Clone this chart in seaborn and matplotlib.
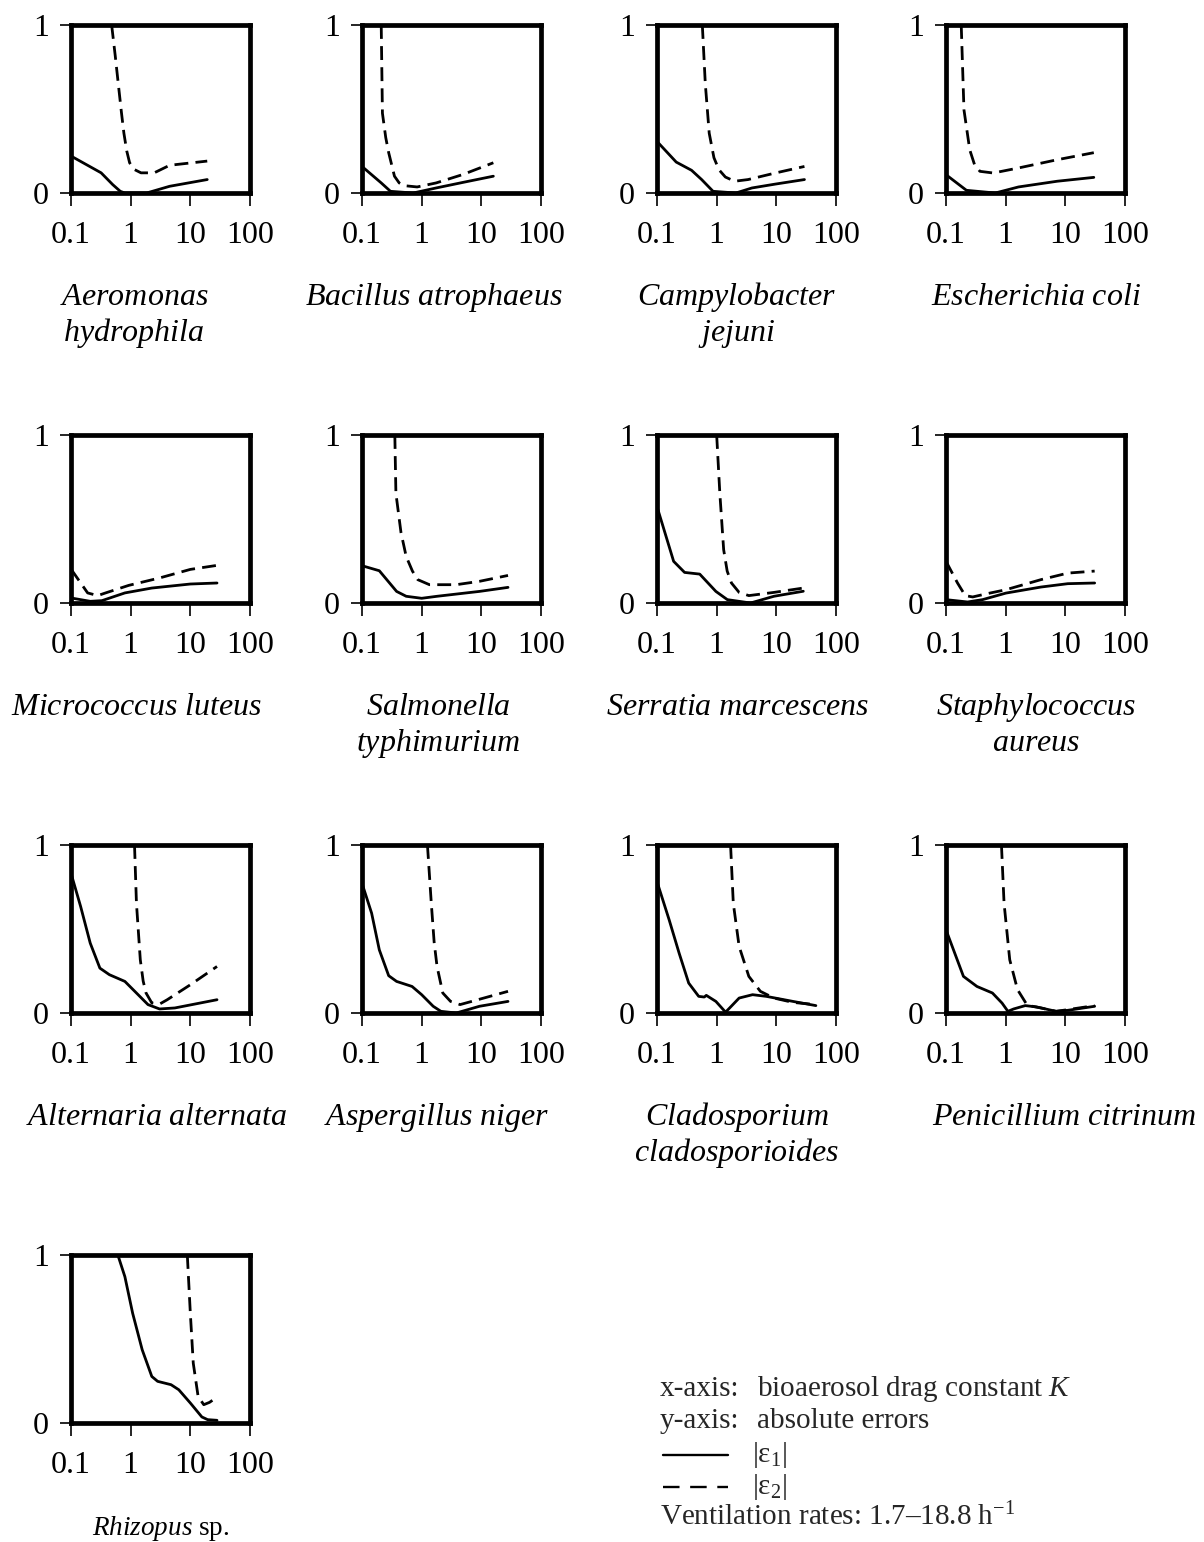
import numpy as np
import pandas as pd
import matplotlib
matplotlib.use("Agg")
import matplotlib.pyplot as plt
from matplotlib.lines import Line2D
from matplotlib.ticker import FixedLocator, FixedFormatter, NullLocator
import seaborn as sns

# ---------------- data ----------------
species = ["Aeromonas hydrophila", "Bacillus atrophaeus", "Campylobacter jejuni",
           "Escherichia coli", "Micrococcus luteus", "Salmonella typhimurium",
           "Serratia marcescens", "Staphylococcus aureus", "Alternaria alternata",
           "Aspergillus niger", "Cladosporium cladosporioides", "Penicillium citrinum",
           "Rhizopus sp."]

aero_k1 = [0.1, 0.32, 0.5, 0.67, 0.8, 1.85, 4.5, 19.2]
aero_e1 = [0.22, 0.12, 0.05, 0.01, 0.0, 0.0, 0.04, 0.08]
aero_k2 = [0.48, 0.55, 0.62, 0.70, 0.77, 0.86, 0.96, 1.15, 1.49, 2.48, 4.5, 19.2]
aero_e2 = [1.0, 0.82, 0.65, 0.48, 0.356, 0.25, 0.18, 0.14, 0.12, 0.12, 0.165, 0.19]

bac_k1 = [0.1, 0.21, 0.30, 0.72, 1.75, 4.9, 15.9]
bac_e1 = [0.158, 0.06, 0.01, 0.0, 0.03, 0.063, 0.10]
bac_k2 = [0.21, 0.22, 0.25, 0.28, 0.35, 0.42, 0.50, 0.84, 1.75, 4.9, 15.9]
bac_e2 = [1.0, 0.475, 0.33, 0.24, 0.10, 0.06, 0.044, 0.036, 0.06, 0.11, 0.18]

camp_k1 = [0.1, 0.21, 0.38, 0.56, 0.87, 2.1, 3.9, 9.6, 29.6]
camp_e1 = [0.307, 0.184, 0.135, 0.08, 0.01, 0.0, 0.03, 0.053, 0.08]
camp_k2 = [0.575, 0.645, 0.75, 0.9, 1.09, 1.4, 2.0, 3.36, 9.6, 29.6]
camp_e2 = [1.0, 0.65, 0.356, 0.21, 0.139, 0.095, 0.07, 0.08, 0.119, 0.158]

ecoli_k1 = [0.1, 0.22, 0.67, 1.64, 7.3, 30]
ecoli_e1 = [0.109, 0.016, 0.0, 0.036, 0.07, 0.093]
ecoli_k2 = [0.18, 0.20, 0.25, 0.30, 0.37, 0.62, 1.64, 7.3, 30]
ecoli_e2 = [1.0, 0.495, 0.257, 0.17, 0.129, 0.119, 0.149, 0.198, 0.24]

micro_k1 = [0.1, 0.21, 0.33, 0.80, 2.26, 10, 28]
micro_e1 = [0.03, 0.01, 0.014, 0.06, 0.089, 0.113, 0.119]
micro_k2 = [0.1, 0.19, 0.28, 0.38, 0.93, 3.05, 10, 28]
micro_e2 = [0.202, 0.06, 0.044, 0.06, 0.105, 0.149, 0.20, 0.224]

salm_k1 = [0.1, 0.195, 0.38, 0.55, 1.0, 1.81, 9.3, 28]
salm_e1 = [0.222, 0.192, 0.069, 0.04, 0.028, 0.04, 0.069, 0.093]
salm_k2 = [0.355, 0.37, 0.45, 0.55, 0.70, 0.86, 1.35, 3.8, 9.3, 28]
salm_e2 = [1.0, 0.653, 0.42, 0.277, 0.19, 0.139, 0.109, 0.109, 0.129, 0.164]

serr_k1 = [0.1, 0.19, 0.29, 0.52, 0.97, 1.51, 3.7, 9.1, 28.3]
serr_e1 = [0.574, 0.248, 0.182, 0.172, 0.069, 0.02, 0.0, 0.04, 0.07]
serr_k2 = [1.0, 1.13, 1.31, 1.5, 1.77, 2.38, 3.46, 9.1, 28.3]
serr_e2 = [1.0, 0.653, 0.317, 0.19, 0.119, 0.063, 0.044, 0.063, 0.089]

staph_k1 = [0.1, 0.23, 0.41, 1.01, 3.9, 11, 31]
staph_e1 = [0.02, 0.006, 0.02, 0.059, 0.095, 0.115, 0.119]
staph_k2 = [0.1, 0.156, 0.21, 0.28, 0.48, 1.01, 3.9, 11, 31]
staph_e2 = [0.248, 0.119, 0.044, 0.036, 0.055, 0.079, 0.139, 0.178, 0.19]

alt_k1 = [0.1, 0.145, 0.21, 0.305, 0.44, 0.80, 1.25, 1.95, 3.05, 5.5, 28]
alt_e1 = [0.832, 0.634, 0.416, 0.267, 0.228, 0.188, 0.119, 0.05, 0.024, 0.03, 0.079]
alt_k2 = [1.16, 1.25, 1.45, 1.62, 1.81, 2.26, 3.05, 4.1, 10, 28]
alt_e2 = [1.0, 0.653, 0.317, 0.19, 0.119, 0.06, 0.053, 0.079, 0.168, 0.277]

asp_k1 = [0.1, 0.145, 0.195, 0.28, 0.38, 0.69, 1.0, 1.56, 2.1, 3.8, 9.3, 28]
asp_e1 = [0.772, 0.594, 0.376, 0.222, 0.188, 0.158, 0.109, 0.04, 0.01, 0.0, 0.04, 0.069]
asp_k2 = [1.25, 1.45, 1.62, 1.81, 2.26, 3.05, 4.4, 6.9, 28]
asp_e2 = [1.0, 0.653, 0.42, 0.277, 0.119, 0.069, 0.05, 0.069, 0.129]

clad_k1 = [0.1, 0.16, 0.235, 0.34, 0.50, 0.62, 0.67, 0.97, 1.41, 1.65, 2.38, 4.0, 6.8, 19, 46]
clad_e1 = [0.782, 0.554, 0.356, 0.178, 0.099, 0.095, 0.105, 0.069, 0.005, 0.03, 0.089, 0.109, 0.099, 0.069, 0.044]
clad_k2 = [1.71, 1.9, 2.38, 3.46, 5.4, 9.1, 19, 46]
clad_e2 = [1.0, 0.653, 0.396, 0.218, 0.129, 0.089, 0.063, 0.05]

pen_k1 = [0.1, 0.196, 0.33, 0.60, 0.87, 1.09, 1.36, 2.13, 3.3, 7.0, 11, 31]
pen_e1 = [0.495, 0.218, 0.158, 0.119, 0.059, 0.01, 0.024, 0.044, 0.036, 0.01, 0.016, 0.04]
pen_k2 = [0.85, 0.94, 1.17, 1.58, 2.3, 3.9, 7.0, 11, 31]
pen_e2 = [1.0, 0.653, 0.317, 0.139, 0.046, 0.03, 0.01, 0.02, 0.044]

rhiz_k1 = [0.61, 0.80, 1.08, 1.56, 2.26, 2.83, 4.75, 6.4, 10, 15.6, 19.5, 28]
rhiz_e1 = [1.0, 0.871, 0.653, 0.436, 0.277, 0.248, 0.228, 0.198, 0.119, 0.036, 0.02, 0.016]
rhiz_k2 = [8.9, 10, 11.2, 13.5, 16.8, 21, 28]
rhiz_e2 = [1.0, 0.653, 0.356, 0.158, 0.109, 0.123, 0.154]

x_ticks = [0.1, 1, 10, 100]
x_tick_labels = ["0.1", "1", "10", "100"]
y_ticks = [0, 1]
y_tick_labels = ["0", "1"]

series_data = [
    (aero_k1, aero_e1, aero_k2, aero_e2),
    (bac_k1, bac_e1, bac_k2, bac_e2),
    (camp_k1, camp_e1, camp_k2, camp_e2),
    (ecoli_k1, ecoli_e1, ecoli_k2, ecoli_e2),
    (micro_k1, micro_e1, micro_k2, micro_e2),
    (salm_k1, salm_e1, salm_k2, salm_e2),
    (serr_k1, serr_e1, serr_k2, serr_e2),
    (staph_k1, staph_e1, staph_k2, staph_e2),
    (alt_k1, alt_e1, alt_k2, alt_e2),
    (asp_k1, asp_e1, asp_k2, asp_e2),
    (clad_k1, clad_e1, clad_k2, clad_e2),
    (pen_k1, pen_e1, pen_k2, pen_e2),
    (rhiz_k1, rhiz_e1, rhiz_k2, rhiz_e2),
]

rows = []
for name, (k1, e1, k2, e2) in zip(species, series_data):
    for k, e in zip(k1, e1):
        rows.append((name, "e1", k, e))
    for k, e in zip(k2, e2):
        rows.append((name, "e2", k, e))
df = pd.DataFrame(rows, columns=["species", "series", "K", "err"])

# ---------------- styling ----------------
sns.set_theme(style="ticks")
plt.rcParams['font.family'] = ['Liberation Serif', 'DejaVu Serif']
plt.rcParams['mathtext.fontset'] = 'custom'
plt.rcParams['mathtext.rm'] = 'Liberation Serif'
plt.rcParams['mathtext.it'] = 'Liberation Serif:italic'

W, H = 1204, 1542
fig = plt.figure(figsize=(W / 100, H / 100), dpi=100)
fig.patch.set_facecolor("white")

col_left = [71, 362, 657, 946]
row_top = [25, 435, 845, 1255]
box_w, box_h = 179, 168
LW = 2.0
DASH = (5, 2.6)

title_lines = [
    [r"$\mathit{Aeromonas}$", r"$\mathit{hydrophila}$"],
    [r"$\mathit{Bacillus\ atrophaeus}$"],
    [r"$\mathit{Campylobacter}$", r"$\mathit{jejuni}$"],
    [r"$\mathit{Escherichia\ coli}$"],
    [r"$\mathit{Micrococcus\ luteus}$"],
    [r"$\mathit{Salmonella}$", r"$\mathit{typhimurium}$"],
    [r"$\mathit{Serratia\ marcescens}$"],
    [r"$\mathit{Staphylococcus}$", r"$\mathit{aureus}$"],
    [r"$\mathit{Alternaria\ alternata}$"],
    [r"$\mathit{Aspergillus\ niger}$"],
    [r"$\mathit{Cladosporium}$", r"$\mathit{cladosporioides}$"],
    [r"$\mathit{Penicillium\ citrinum}$"],
    [r"$\mathit{Rhizopus}$ sp."],
]
title_x = [134, 434, 737, 1036, 136, 438, 737, 1036, 156, 436, 737, 1064, 161]
title_size = [23] * 12 + [19.5]

for idx, name in enumerate(species):
    r, c = divmod(idx, 4)
    left = col_left[c]
    top = row_top[r]
    ax = fig.add_axes([left / W, 1 - (top + box_h) / H, box_w / W, box_h / H])
    sub = df[df["species"] == name]
    for s in ("e1", "e2"):
        ss = sub[sub["series"] == s]
        sns.lineplot(data=ss, x="K", y="err", sort=False, estimator=None,
                     color="black", linewidth=LW, ax=ax)
        if s == "e2":
            ax.lines[-1].set_dashes(DASH)
    ax.set_xscale("log")
    ax.set_xlim(0.1, 100)
    ax.set_ylim(0, 1)
    ax.xaxis.set_major_locator(FixedLocator(x_ticks))
    ax.xaxis.set_major_formatter(FixedFormatter(x_tick_labels))
    ax.xaxis.set_minor_locator(NullLocator())
    ax.yaxis.set_major_locator(FixedLocator(y_ticks))
    ax.yaxis.set_major_formatter(FixedFormatter(y_tick_labels))
    ax.set_xlabel("")
    ax.set_ylabel("")
    for sp in ax.spines.values():
        sp.set_visible(True)
        sp.set_linewidth(3.4)
        sp.set_color("black")
    ax.tick_params(axis="x", direction="out", length=9, width=1.2, pad=11,
                   labelsize=23, colors="black")
    ax.tick_params(axis="y", direction="out", length=8, width=1.2, pad=8,
                   labelsize=23, colors="black")
    ax.set_facecolor("white")
    bottom = top + box_h
    for j, txt in enumerate(title_lines[idx]):
        fig.text(title_x[idx] / W, 1 - (bottom + 112 + 36 * j) / H, txt,
                 ha="center", va="baseline", fontsize=title_size[idx], color="black")

# ---------------- legend / notes block ----------------
lx1, lx2, lx3 = 660, 757, 752
fs = 21
base = [1396, 1428, 1462, 1494, 1525]
fig.text(lx1 / W, 1 - base[0] / H, "x-axis:", fontsize=fs, va="baseline", ha="left")
fig.text(lx2 / W, 1 - base[0] / H, r"bioaerosol drag constant $\mathit{K}$", fontsize=fs,
         va="baseline", ha="left")
fig.text(lx1 / W, 1 - base[1] / H, "y-axis:", fontsize=fs, va="baseline", ha="left")
fig.text(lx2 / W, 1 - base[1] / H, "absolute errors", fontsize=fs, va="baseline", ha="left")
fig.add_artist(Line2D([663 / W, 728 / W], [1 - (base[2] - 7) / H] * 2,
                      color="black", linewidth=1.7))
fig.text(lx3 / W, 1 - base[2] / H, r"|ε$_1$|", fontsize=fs, va="baseline", ha="left")
fig.add_artist(Line2D([663 / W, 728 / W], [1 - (base[3] - 7) / H] * 2,
                      color="black", linewidth=1.7, dashes=(7, 4.5)))
fig.text(lx3 / W, 1 - base[3] / H, r"|ε$_2$|", fontsize=fs, va="baseline", ha="left")
fig.text(lx1 / W, 1 - base[4] / H, r"Ventilation rates: 1.7–18.8 h$^{-1}$", fontsize=fs,
         va="baseline", ha="left")

fig.savefig("out.png", dpi=100, facecolor="white")
